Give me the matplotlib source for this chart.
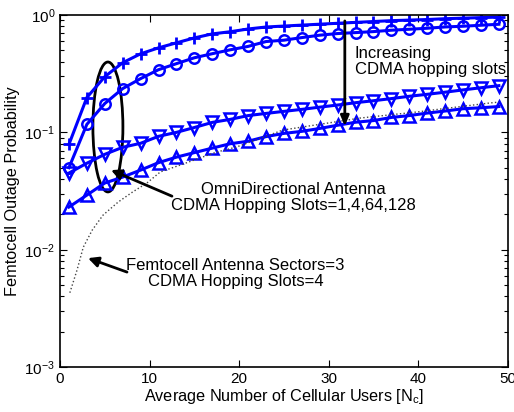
import matplotlib
matplotlib.use("Agg")
import matplotlib.pyplot as plt
from matplotlib.patches import Ellipse

plt.rcParams['font.family'] = ['Liberation Sans', 'DejaVu Sans']

# Data
x_users = [1, 3, 5, 7, 9, 11, 13, 15, 17, 19, 21, 23, 25, 27, 29, 31, 33, 35, 37, 39, 41, 43, 45, 47, 49]

omni_slots1 = [0.079, 0.198, 0.298, 0.392, 0.467, 0.525, 0.579, 0.638, 0.690, 0.720, 0.760, 0.790,
               0.805, 0.820, 0.835, 0.850, 0.865, 0.880, 0.895, 0.905, 0.915, 0.930, 0.940, 0.950, 0.960]
omni_slots4 = [0.050, 0.117, 0.176, 0.236, 0.287, 0.342, 0.385, 0.432, 0.468, 0.505, 0.540, 0.594,
               0.610, 0.642, 0.673, 0.695, 0.708, 0.722, 0.742, 0.756, 0.771, 0.791, 0.802, 0.818, 0.834]
omni_slots64 = [0.045, 0.0546, 0.065, 0.0746, 0.0807, 0.0925, 0.100, 0.110, 0.1216, 0.129, 0.139, 0.145,
                0.151, 0.157, 0.164, 0.171, 0.179, 0.186, 0.194, 0.203, 0.211, 0.220, 0.230, 0.240, 0.250]
omni_slots128 = [0.0231, 0.0292, 0.037, 0.0416, 0.0477, 0.0552, 0.0615, 0.0672, 0.0734, 0.080, 0.084, 0.092,
                 0.098, 0.102, 0.108, 0.115, 0.122, 0.126, 0.134, 0.139, 0.146, 0.152, 0.159, 0.162, 0.166]

x_sector = [1.1, 1.9, 2.6, 3.6, 4.8, 6.5, 8.1, 9.7, 11.2, 13.4, 15.6, 17.5, 19.7, 24.9, 33.5, 39.8, 48.0, 49.0]
sector3_slots4 = [0.0043, 0.0067, 0.0105, 0.0147, 0.0197, 0.0255, 0.031, 0.037, 0.046, 0.0526, 0.0604,
                  0.068, 0.075, 0.1047, 0.1324, 0.149, 0.178, 0.181]

x_ticks = [0, 10, 20, 30, 40, 50]

fig = plt.figure(figsize=(5.14, 4.12), dpi=100)
ax = fig.add_axes([0.1167, 0.109, 0.8713, 0.8546])

blue = (0, 0, 1)
lw = 2.2
ax.plot(x_users, omni_slots1, color=blue, lw=lw, marker='+', ms=9, mew=2)
ax.plot(x_users, omni_slots4, color=blue, lw=lw, marker='o', ms=7.5, mew=1.8, mfc='none')
ax.plot(x_users, omni_slots64, color=blue, lw=lw, marker='v', ms=8, mew=1.8, mfc='none')
ax.plot(x_users, omni_slots128, color=blue, lw=lw, marker='^', ms=8, mew=1.8, mfc='none')
ax.plot(x_sector, sector3_slots4, color='#444444', lw=1.0, ls=':')

ax.set_yscale('log')
ax.set_xlim(0, 50)
ax.set_ylim(1e-3, 1)
ax.set_xticks(x_ticks)
ax.set_xticklabels([str(t) for t in x_ticks])

ax.tick_params(which='both', direction='in', top=True, right=True, labelsize=11, width=0.8)
ax.tick_params(which='major', length=5)
ax.tick_params(which='minor', length=3)
ax.tick_params(axis='x', which='minor', bottom=False, top=False)
for s in ax.spines.values():
    s.set_linewidth(1.2)

ax.set_xlabel('Average Number of Cellular Users [N$_\\mathregular{c}$]', fontsize=11.7, labelpad=1)
ax.set_ylabel('Femtocell Outage Probability', fontsize=11.7, labelpad=3)

# Ellipse around the omni curves
ell = Ellipse((0.107, 0.682), 0.067, 0.369, transform=ax.transAxes,
              fill=False, edgecolor='black', lw=2)
ax.add_patch(ell)

arrow_kw = dict(arrowstyle='-|>,head_length=0.6,head_width=0.3', color='black', lw=2,
                shrinkA=0, shrinkB=0)

# Annotations
ax.annotate('', xy=(5.7, 0.0477), xytext=(12.5, 0.0286), arrowprops=arrow_kw)
ax.text(26.06, 0.0281, 'OmniDirectional Antenna\nCDMA Hopping Slots=1,4,64,128',
        ha='center', va='center', fontsize=12, linespacing=1.08)

ax.annotate('', xy=(3.13, 0.00848), xytext=(7.48, 0.00645), arrowprops=arrow_kw)
ax.text(19.6, 0.00626, 'Femtocell Antenna Sectors=3\nCDMA Hopping Slots=4',
        ha='center', va='center', fontsize=12, linespacing=1.08)

ax.annotate('', xy=(31.8, 0.113), xytext=(31.8, 0.89),
            arrowprops=dict(arrowstyle='-|>,head_length=0.6,head_width=0.25', color='black', lw=2,
                            shrinkA=0, shrinkB=0))
ax.text(32.9, 0.405, 'Increasing\nCDMA hopping slots', fontsize=12, ha='left', va='center',
        linespacing=1.08)

fig.savefig('out.png', dpi=100)
